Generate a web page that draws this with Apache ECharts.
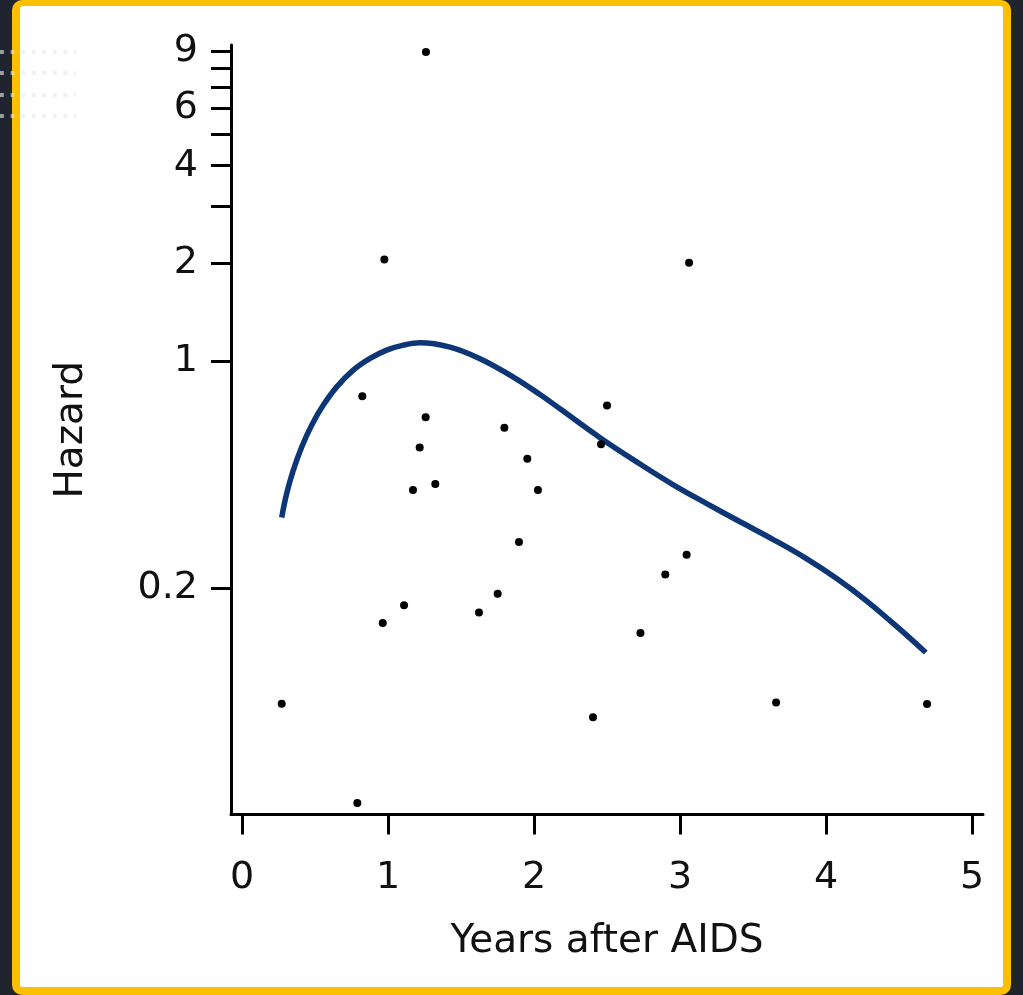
<!DOCTYPE html>
<html>
<head>
<meta charset="utf-8">
<script src="https://cdn.jsdelivr.net/npm/echarts@6/dist/echarts.min.js"></script>
<style>
  html, body { margin: 0; padding: 0; background: #20242f; }
  #page { position: relative; width: 1023px; height: 995px; overflow: hidden; }
  #frame {
    position: absolute; left: 12px; top: 0; width: 983px; height: 981px;
    background: #fff; border: 8px solid #fcc000; border-top-width: 6px;
    border-radius: 10px;
  }
  .dots {
    position: absolute; left: 0; width: 76px; height: 4px;
    background-image: linear-gradient(90deg, rgba(231,231,231,0.62) 4px, transparent 4px);
    background-size: 10.6px 4px;
  }
  #chart { position: absolute; left: 0; top: 0; width: 1023px; height: 995px; }
</style>
</head>
<body>
<div id="page">
  <div id="frame"></div>
  <div class="dots" style="top:50px"></div>
  <div class="dots" style="top:71px"></div>
  <div class="dots" style="top:93px"></div>
  <div class="dots" style="top:114px"></div>
  <div id="chart"></div>
</div>
<script>
// observed hazard per patient (years after AIDS, hazard)
const obsYears = [0.272, 0.790, 0.824, 0.964, 0.975, 1.110, 1.171, 1.217, 1.260, 1.258, 1.324,
                  1.623, 1.751, 1.797, 1.897, 1.954, 2.027, 2.404, 2.459, 2.500, 2.729, 2.899,
                  3.045, 3.062, 3.658, 4.692];
const obsHazard = [0.088, 0.0435, 0.780, 0.156, 2.058, 0.177, 0.401, 0.542, 8.97, 0.672, 0.418,
                   0.168, 0.192, 0.623, 0.277, 0.500, 0.401, 0.080, 0.555, 0.730, 0.1454, 0.220,
                   0.253, 2.01, 0.0887, 0.0878];

// smoothed hazard curve
const fitYears = [0.272, 0.306, 0.351, 0.409, 0.477, 0.557, 0.649, 0.762, 0.877, 0.991, 1.105,
                  1.219, 1.425, 1.630, 1.858, 2.041, 2.178, 2.452, 2.726, 2.954, 3.183, 3.411,
                  3.639, 3.868, 4.073, 4.279, 4.507, 4.683];
const fitHazard = [0.330, 0.391, 0.461, 0.544, 0.635, 0.732, 0.833, 0.938, 1.019, 1.081, 1.120,
                   1.139, 1.104, 1.017, 0.893, 0.789, 0.713, 0.581, 0.482, 0.416, 0.364, 0.320,
                   0.282, 0.246, 0.214, 0.1823, 0.1491, 0.1265];

const xTicks = [0, 1, 2, 3, 4, 5];
const yLabels = [0.2, 1, 2, 4, 6, 9];
const yTicks = [0.2, 1, 2, 3, 4, 5, 6, 7, 8, 9];

const font = 'DejaVu Sans';
const chart = echarts.init(document.getElementById('chart'));

chart.setOption({
  animation: false,
  backgroundColor: 'transparent',
  grid: { left: 231, top: 45, right: 40, bottom: 180.5 },
  xAxis: {
    type: 'value',
    min: -0.0753,
    max: 5.075,
    name: 'Years after AIDS',
    nameLocation: 'middle',
    nameGap: 108,
    nameTextStyle: { color: '#111', fontSize: 39, fontFamily: font },
    axisLine: { onZero: false, lineStyle: { color: '#000', width: 3 } },
    axisTick: { show: true, length: 20, lineStyle: { color: '#000', width: 3 }, customValues: xTicks },
    axisLabel: { color: '#111', fontSize: 38, fontFamily: font, margin: 45, customValues: xTicks },
    splitLine: { show: false }
  },
  yAxis: {
    type: 'log',
    min: 0.0401,
    max: 9.42,
    name: 'Hazard',
    nameLocation: 'middle',
    nameGap: 140,
    nameTextStyle: { color: '#111', fontSize: 39, fontFamily: font },
    axisLine: { show: true, onZero: false, lineStyle: { color: '#000', width: 3 } },
    axisTick: { show: true, length: 20, lineStyle: { color: '#000', width: 3 }, customValues: yTicks },
    axisLabel: {
      color: '#111', fontSize: 38, fontFamily: font, margin: 33, customValues: yLabels,
      formatter: v => String(parseFloat(Number(v).toPrecision(3)))
    },
    splitLine: { show: false }
  },
  series: [
    {
      type: 'line',
      data: fitYears.map((x, i) => [x, fitHazard[i]]),
      smooth: 0.4,
      showSymbol: false,
      lineStyle: { color: '#0d3677', width: 5.5 },
      z: 2
    },
    {
      type: 'scatter',
      data: obsYears.map((x, i) => [x, obsHazard[i]]),
      symbolSize: 8,
      itemStyle: { color: '#000', opacity: 1 },
      z: 3
    }
  ]
});
</script>
</body>
</html>
